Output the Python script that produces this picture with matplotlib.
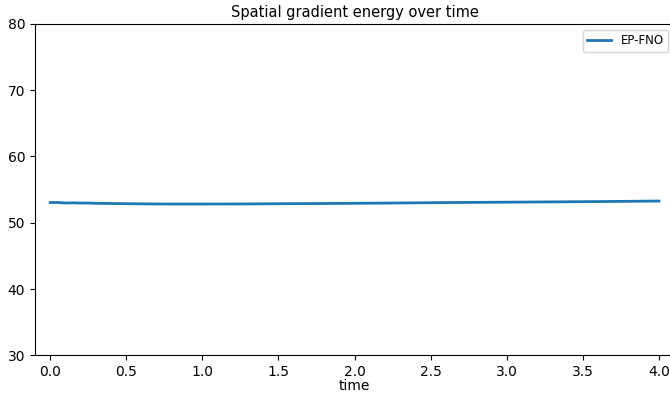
import matplotlib
matplotlib.use("Agg")
import matplotlib.pyplot as plt

time = [0.0, 0.05, 0.1, 0.15, 0.2, 0.25, 0.3, 0.4, 0.5, 0.6, 0.7, 0.8, 0.9, 1.0,
        1.2, 1.4, 1.6, 1.8, 2.0, 2.2, 2.4, 2.6, 2.8, 3.0, 3.2, 3.4, 3.6, 3.8, 4.0]
energy = [53.05, 53.05, 52.98, 53.0, 52.97, 52.97, 52.93, 52.9, 52.87, 52.85, 52.83,
          52.82, 52.82, 52.82, 52.83, 52.85, 52.88, 52.9, 52.93, 52.96, 53.0, 53.04,
          53.07, 53.1, 53.13, 53.16, 53.19, 53.23, 53.27]
series_label = "EP-FNO"
xticks = [0.0, 0.5, 1.0, 1.5, 2.0, 2.5, 3.0, 3.5, 4.0]

fig = plt.figure(figsize=(6.7, 3.96), dpi=100)
ax = fig.add_axes([0.0522, 0.1023, 0.954, 0.838])
ax.plot(time, energy, color="#1f77b4", linewidth=2, label=series_label)
ax.set_xlim(-0.1, 4.1)
ax.set_ylim(30, 80)
ax.set_xticks(xticks)
ax.set_title("Spatial gradient energy over time", fontsize=10.5, pad=4.5)
ax.set_xlabel("time", labelpad=0)
ax.legend(loc="upper right", fontsize=8.5)
fig.savefig("out.png", dpi=100)
